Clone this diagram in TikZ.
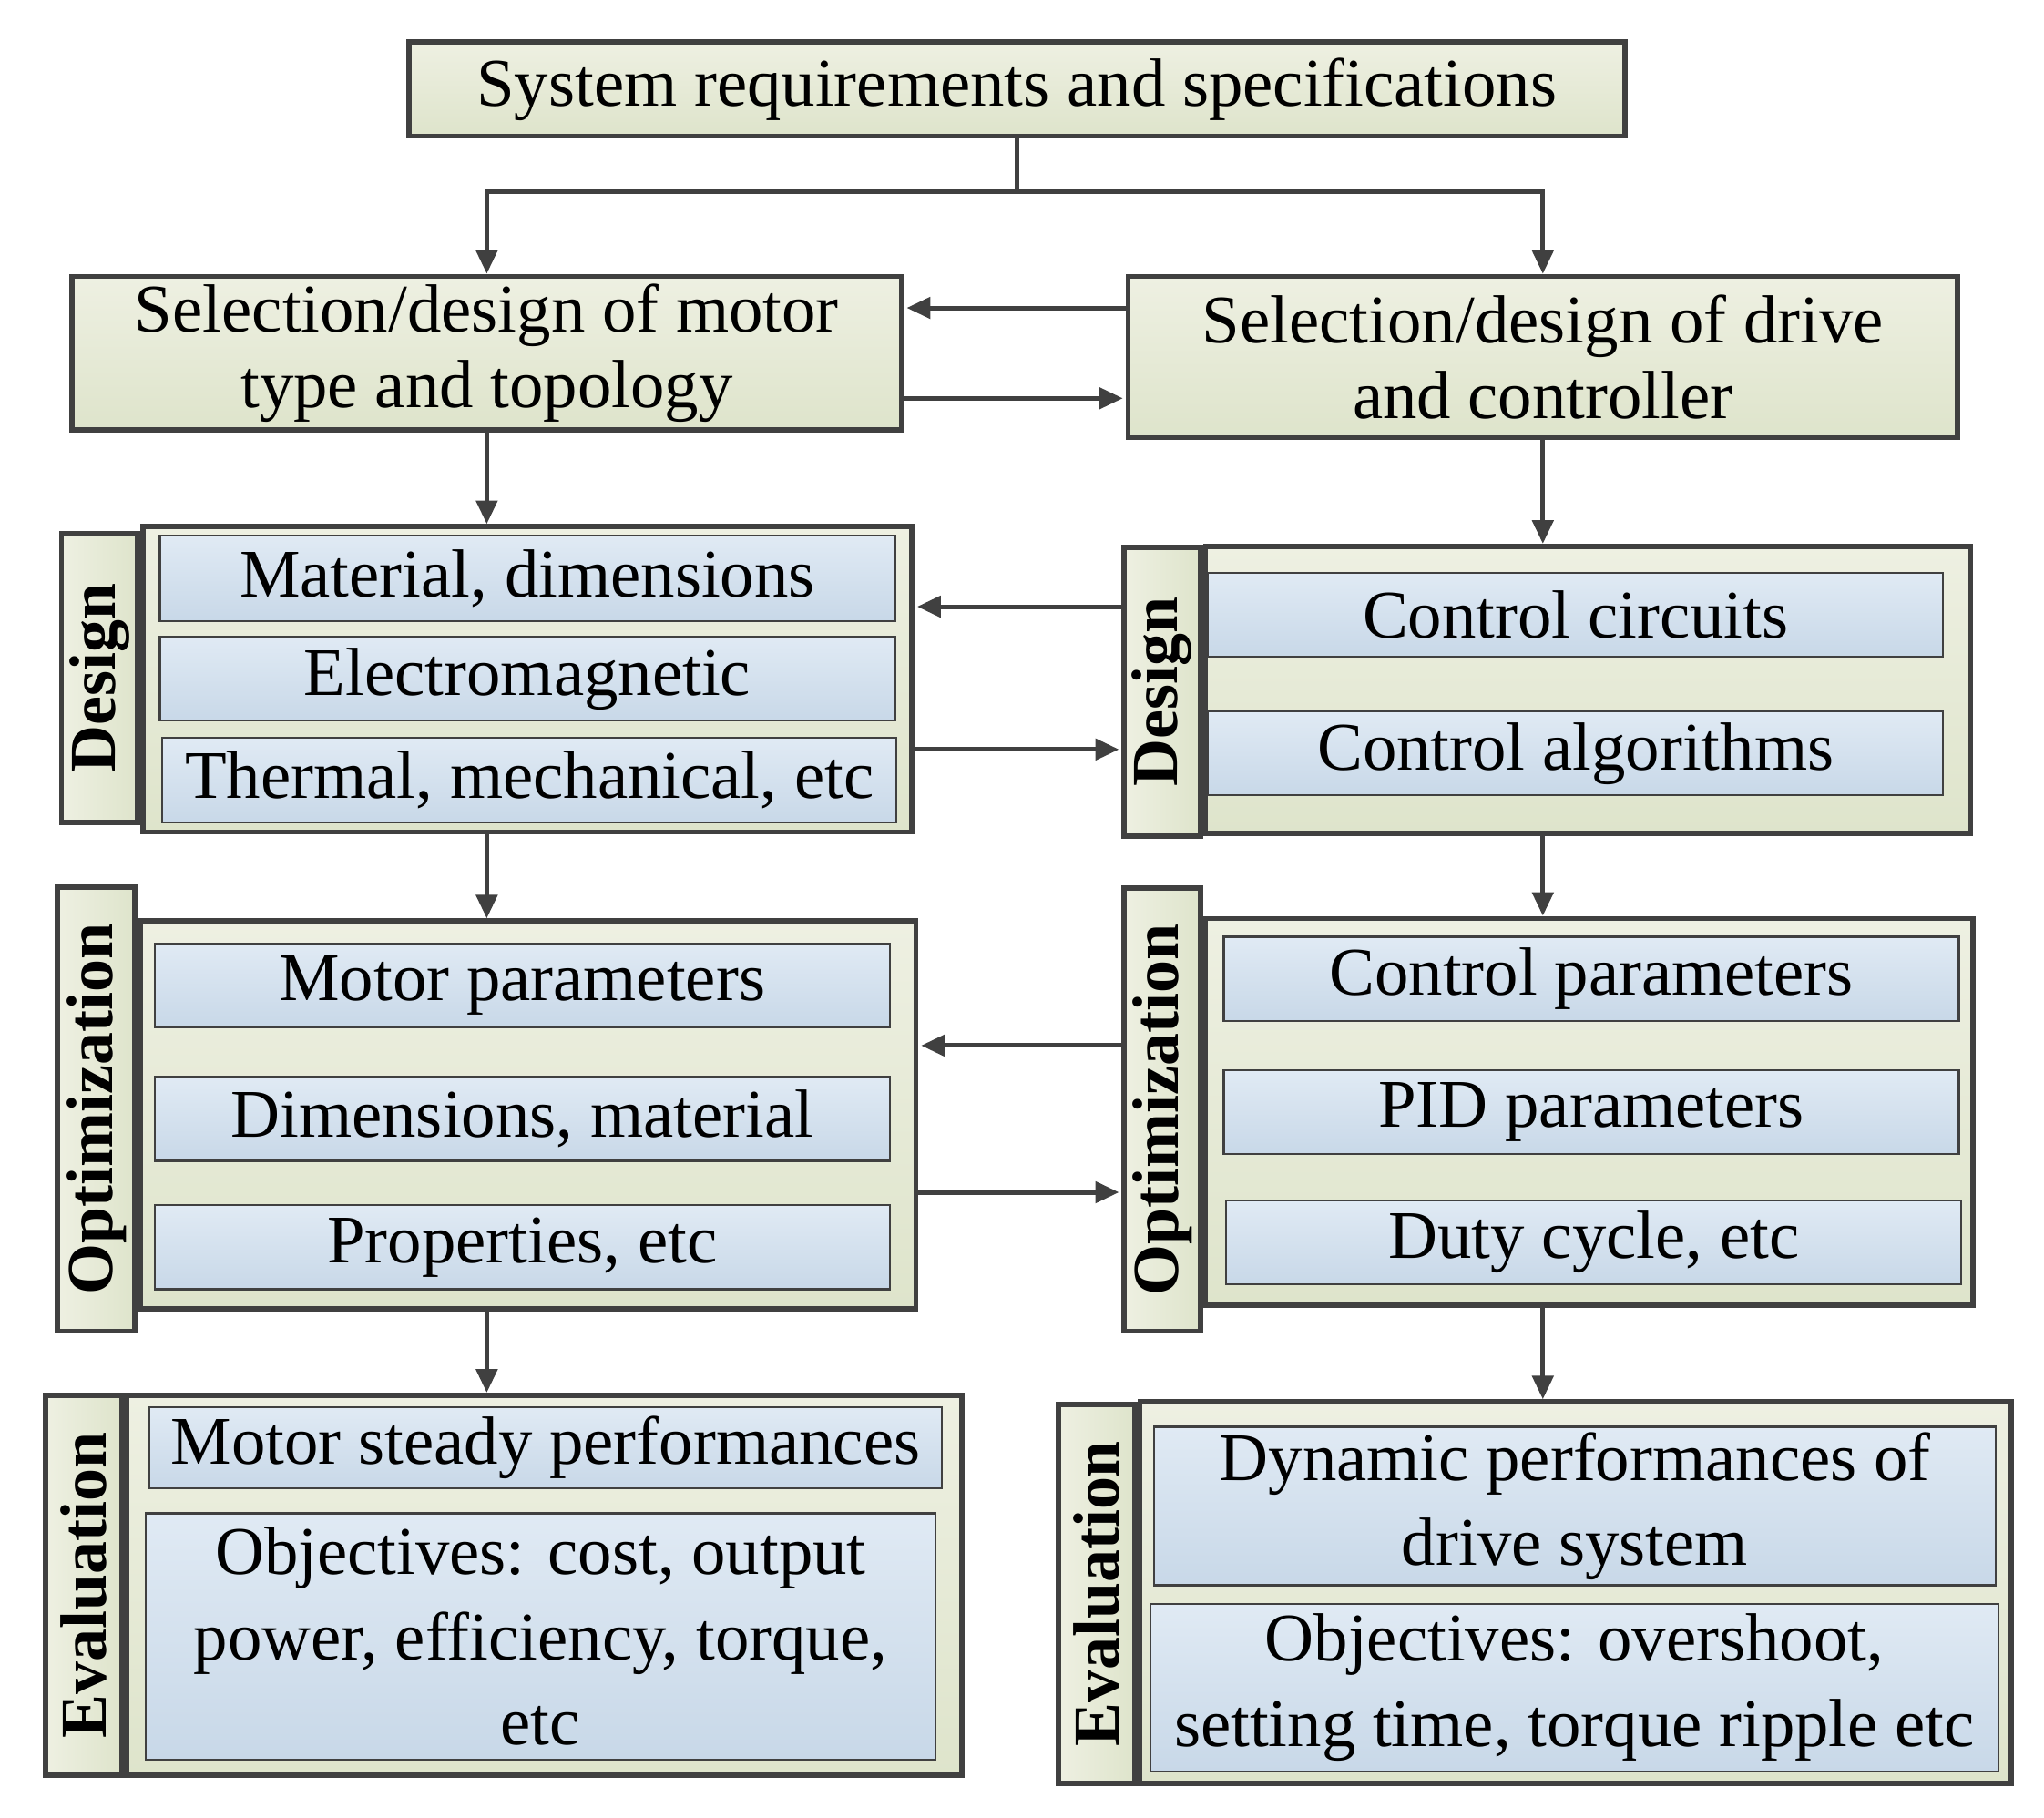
\documentclass[tikz,border=0pt]{standalone}
\usepackage{fontspec}
\setmainfont{Liberation Serif}
\usetikzlibrary{arrows.meta, calc}
\definecolor{edge}{HTML}{404040}
\definecolor{gtop}{HTML}{EEF0E2}
\definecolor{gbot}{HTML}{DEE4CB}
\definecolor{btop}{HTML}{E0EAF4}
\definecolor{bbot}{HTML}{C8D8E8}
\tikzset{
  outer/.style={draw=edge, line width=4pt, top color=gtop, bottom color=gbot,
    align=center, inner sep=0pt, font=\fontsize{52}{58}\selectfont},
  tab/.style={draw=edge, line width=4pt, left color=gtop, right color=gbot,
    inner sep=0pt},
  inner/.style={draw=edge, line width=1.5pt, top color=btop, bottom color=bbot,
    align=center, inner sep=0pt, font=\fontsize{52}{65}\selectfont},
  tabtext/.style={rotate=90, font=\fontsize{50}{56}\selectfont\bfseries},
  arr/.style={draw=edge, line width=3.5pt, -{Triangle[length=18pt, width=16pt]}},
}
% box from corner to corner: name, x1, y1, x2, y2, style, text
\newcommand{\bx}[7]{\node[#6, minimum width={(#4-#2-4)*1pt}, minimum height={(#5-#3-4)*1pt}]
  (#1) at ({(#2+#4)/2}, {(#3+#5)/2}) {#7};}
\begin{document}
\begin{tikzpicture}[x=1pt, y=-1pt]
  \useasboundingbox (0,0) rectangle (1560,1387);
  % Top row
  \bx{top}{310}{30}{1242}{106}{outer}{System requirements and specifications}
  \bx{motor}{53}{209}{690}{330}{outer}{Selection/design of motor\\type and topology}
  \bx{drive}{859}{209}{1496}{336}{outer}{Selection/design of drive\\and controller}
  % Design
  \bx{dsgL}{107}{400}{698}{637}{outer}{}
  \bx{dsgLt}{45}{405}{107}{630}{tab}{}
  \node[tabtext] at (dsgLt) {Design};
  \bx{dL1}{120}{407}{685}{476}{inner}{Material, dimensions}
  \bx{dL2}{120}{484}{685}{552}{inner}{Electromagnetic}
  \bx{dL3}{122}{561}{686}{630}{inner}{Thermal, mechanical, etc}
  \bx{dsgR}{918}{415}{1506}{638}{outer}{}
  \bx{dsgRt}{856}{416}{918}{640}{tab}{}
  \node[tabtext] at (dsgRt) {Design};
  \bx{dR1}{920}{435}{1485}{503}{inner}{Control circuits}
  \bx{dR2}{920}{541}{1485}{609}{inner}{Control algorithms}
  % Optimization
  \bx{optL}{105}{701}{701}{1001}{outer}{}
  \bx{optLt}{42}{675}{105}{1018}{tab}{}
  \node[tabtext] at (optLt) {Optimization};
  \bx{oL1}{116}{718}{681}{786}{inner}{Motor parameters}
  \bx{oL2}{116}{820}{681}{888}{inner}{Dimensions, material}
  \bx{oL3}{116}{918}{681}{986}{inner}{Properties, etc}
  \bx{optR}{918}{699}{1508}{998}{outer}{}
  \bx{optRt}{856}{676}{918}{1018}{tab}{}
  \node[tabtext] at (optRt) {Optimization};
  \bx{oR1}{932}{713}{1497}{781}{inner}{Control parameters}
  \bx{oR2}{932}{815}{1497}{883}{inner}{PID parameters}
  \bx{oR3}{934}{914}{1499}{982}{inner}{Duty cycle, etc}
  % Evaluation
  \bx{evL}{95}{1063}{736}{1357}{outer}{}
  \bx{evLt}{33}{1063}{95}{1357}{tab}{}
  \node[tabtext] at (evLt) {Evaluation};
  \bx{eL1}{112}{1072}{721}{1138}{inner}{Motor steady performances}
  \bx{eL2}{109}{1153}{716}{1345}{inner}{Objectives: cost, output\\power, efficiency, torque,\\etc}
  \bx{evR}{868}{1068}{1537}{1363}{outer}{}
  \bx{evRt}{806}{1070}{868}{1363}{tab}{}
  \node[tabtext] at (evRt) {Evaluation};
  \bx{eR1}{879}{1087}{1525}{1212}{inner}{Dynamic performances of\\drive system}
  \bx{eR2}{876}{1222}{1527}{1354}{inner}{Objectives: overshoot,\\setting time, torque ripple etc}
  % Connectors
  \draw[arr] (top.south) -- ++(0,40) -| (motor.north);
  \draw[arr] (top.south) -- ++(0,40) -| (drive.north);
  \draw[arr] (drive.west |- 0,235) -- ($(motor.east |- 0,235)+(2,0)$);
  \draw[arr] (motor.east |- 0,304) -- ($(drive.west |- 0,304)+(-2,0)$);
  \draw[arr] (motor.south) -- (motor.south |- dsgL.north);
  \draw[arr] (drive.south) -- (drive.south |- dsgR.north);
  \draw[arr] (dsgRt.west |- 0,463) -- ($(dsgL.east |- 0,463)+(2,0)$);
  \draw[arr] (dsgL.east |- 0,572) -- ($(dsgRt.west |- 0,572)+(-2,0)$);
  \draw[arr] (motor.south |- dsgL.south) -- (motor.south |- optL.north);
  \draw[arr] (drive.south |- dsgR.south) -- (drive.south |- optR.north);
  \draw[arr] (optRt.west |- 0,798) -- ($(optL.east |- 0,798)+(2,0)$);
  \draw[arr] (optL.east |- 0,910) -- ($(optRt.west |- 0,910)+(-2,0)$);
  \draw[arr] (motor.south |- optL.south) -- (motor.south |- evL.north);
  \draw[arr] (drive.south |- optR.south) -- (drive.south |- evR.north);
\end{tikzpicture}
\end{document}
